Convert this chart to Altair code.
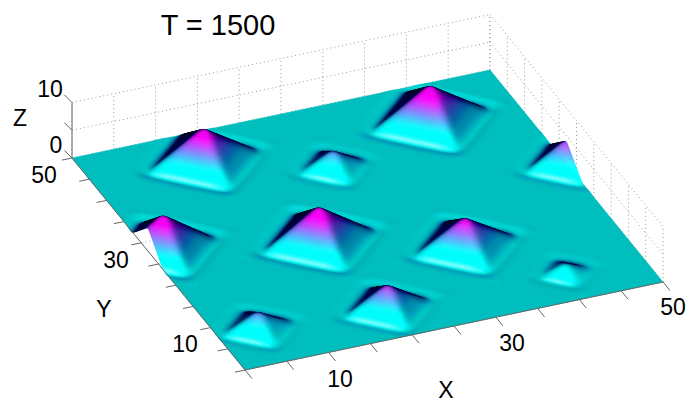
import numpy as np
import altair as alt

# Peaks (world coordinates, height, half-diagonal)
peak_x = [13.2, 39.7, 25.9, 50.0, 1.8, 18.3, 32.8, 40.8, 4.8, 19.7]
peak_y = [43.8, 42.4, 37.1, 27.9, 28.0, 22.8, 15.6, 6.0, 7.8, 6.4]
peak_h = [6.0, 6.4, 3.0, 4.3, 6.1, 6.3, 5.2, 1.6, 3.0, 4.3]
peak_r = [6.5, 6.9, 3.9, 4.8, 6.2, 6.6, 6.0, 2.9, 4.1, 5.0]

x_ticks = list(range(0, 51, 5))
y_ticks = list(range(0, 51, 5))
z_ticks = [0, 5, 10]

labels = ["T = 1500", "10", "0", "Z", "50", "30", "Y", "10", "10", "30", "50", "X"]
label_sx = [218, 50, 56, 20, 44, 116, 104, 185, 340, 512, 673, 446]
label_sy = [26, 90, 146, 119, 176, 261, 310, 345, 380, 344, 308, 391]
label_fs = [29, 23, 23, 23, 23, 23, 23, 23, 23, 23, 23, 23]

FONT = "Liberation Sans"
O = np.array([245.0, 370.0])
EX = np.array([8.36, -1.76])
EY = np.array([-3.46, -4.24])
EZ = 5.55


def proj(x, y, z=0.0):
    return [float(O[0] + EX[0] * x + EY[0] * y),
            float(O[1] + EX[1] * x + EY[1] * y - EZ * z)]


def gauss(a, sigma, du):
    n = int(3 * sigma / du) + 1
    t = np.arange(-n, n + 1) * du
    k = np.exp(-0.5 * (t / sigma) ** 2)
    k /= k.sum()
    a = np.apply_along_axis(lambda v: np.convolve(np.pad(v, n, mode="edge"), k, mode="valid"), 0, a)
    a = np.apply_along_axis(lambda v: np.convolve(np.pad(v, n, mode="edge"), k, mode="valid"), 1, a)
    return a


du = 0.25
gx = -4 + du * np.arange(233)
X, Y = np.meshgrid(gx, gx, indexing="ij")
Zp = np.zeros_like(X)
Zm = np.zeros_like(X)
rim = np.zeros_like(X)
mask = np.zeros_like(X, dtype=bool)
for px, py, h, r in zip(peak_x, peak_y, peak_h, peak_r):
    ax, ay = np.abs(X - px), np.abs(Y - py)
    d = ax + ay
    dr = (ax ** 1.2 + ay ** 1.2) ** (1 / 1.2)
    Zp += h * np.clip(1 - d / r, 0, None)
    m = 0.10 + 0.04 * h
    Zm += -m * np.exp(-(((d * 0.6 + dr * 0.4 - r - 0.5) / 0.55) ** 2))
    Zm += 0.2 * m * np.exp(-(((d * 0.6 + dr * 0.4 - r - 1.8) / 0.7) ** 2))
    front = np.clip((px - X) / 1.5, 0, 1) * np.clip((py - Y) / 1.5, 0, 1)
    rim += 0.85 * front * np.exp(-(((d - r - 0.15) / 0.22) ** 2))
    mask |= d < r + 3.2
rim = gauss(rim, 0.1, du)
Z = gauss(Zp, 0.3, du) + gauss(Zm, 0.3, du)
Gx, Gy = np.gradient(Z, du)
Gx = gauss(Gx, 0.55, du)
Gy = gauss(Gy, 0.55, du)
K = 1.05
Nn = np.sqrt((K * Gx) ** 2 + (K * Gy) ** 2 + 1)
nx, ny, nz = -K * Gx / Nn, -K * Gy / Nn, 1 / Nn
light = -0.2 + (-0.46 * nx - 0.82 * ny + 0.95 * nz)
light = np.clip(light, 0.02, 1.6)
c = np.clip((Z - 1.3) / (4.8 - 1.3), 0, 1)
dark = np.clip(0.75 - light, 0, None) * 0.35
R = np.clip(c * light - dark * 1.4 + rim, 0, 1)
G = np.clip((1 - c) * light - dark + rim, 0, 1)
B = np.clip(light + rim + 0.08 * (light < 0.7), 0, 1)

floor_color = "#00bebe"
floor_rgb = (0, 190, 190)
cells = []
i0, i1 = 16, 216
for i in range(i0, i1):
    for j in range(i0, i1):
        if not mask[i, j]:
            continue
        rgb = [int(255 * a[i:i + 2, j:j + 2].mean()) for a in (R, G, B)]
        if max(abs(a - b) for a, b in zip(rgb, floor_rgb)) < 3 and abs(Z[i, j]) < 0.02:
            continue
        col = "#%02x%02x%02x" % tuple(rgb)
        pts = [proj(X[i, j], Y[i, j], Z[i, j]), proj(X[i + 1, j], Y[i + 1, j], Z[i + 1, j]),
               proj(X[i + 1, j + 1], Y[i + 1, j + 1], Z[i + 1, j + 1]), proj(X[i, j + 1], Y[i, j + 1], Z[i, j + 1])]
        pts = [[round(p[0], 1), round(p[1], 1)] for p in pts]
        depth = 3.46 * X[i, j] + 8.36 * Y[i, j]
        cells.append((depth, col, pts))
cells.sort(key=lambda t: -t[0])


def poly(pts, color):
    return {"type": "Feature", "properties": {"c": color},
            "geometry": {"type": "Polygon", "coordinates": [pts + [pts[0]]]}}


def line(a, b):
    return {"type": "Feature", "properties": {},
            "geometry": {"type": "LineString", "coordinates": [a, b]}}


# The x = 0 edge of the sheet follows the surface, so the sheet lifts off the floor there.
left_edge = [proj(0, Y[i0, j], max(Z[i0, j], 0)) for j in range(i1, i0 - 1, -1)]
floor = [poly([proj(0, 0), proj(50, 0), proj(50, 50)] + left_edge, floor_color)]
surface = floor + [poly(p, col) for _, col, p in cells]

grid = []
for t in x_ticks:
    grid.append(line(proj(t, 50, 0), proj(t, 50, 10)))
    grid.append(line(proj(t, 0, 0), proj(t, 50, 0)))
for t in y_ticks:
    grid.append(line(proj(50, t, 0), proj(50, t, 10)))
    grid.append(line(proj(0, t, 0), proj(50, t, 0)))
for t in z_ticks[1:]:
    grid.append(line(proj(0, 50, t), proj(50, 50, t)))
    grid.append(line(proj(50, 50, t), proj(50, 0, t)))

axes = [line(proj(0, 0), proj(50, 0)), line(proj(0, 0), proj(0, 50)), line(proj(0, 50, 0), proj(0, 50, 10))]
for t in x_ticks:
    axes.append(line(proj(t, 0), proj(t, -2)))
for t in y_ticks:
    axes.append(line(proj(0, t), proj(-1.2, t)))
for t in z_ticks:
    axes.append(line(proj(0, 50, t), proj(-0.14, 51.85, t)))

identity = dict(type="identity", scale=1, translate=[-8, -8])

grid_layer = alt.Chart(alt.Data(values=grid)).mark_geoshape(
    filled=False, stroke="#9a9a9a", strokeWidth=1, strokeDash=[1, 3]).project(**identity)
surf_layer = alt.Chart(alt.Data(values=surface)).mark_geoshape(strokeWidth=0.5).encode(
    fill=alt.Fill("properties.c:N", scale=None, legend=None),
    stroke=alt.Stroke("properties.c:N", scale=None, legend=None),
).project(**identity)
axes_layer = alt.Chart(alt.Data(values=axes)).mark_geoshape(
    filled=False, stroke="#666666", strokeWidth=1).project(**identity)
text_layer = alt.Chart(alt.Data(values=[
    {"t": t, "sx": a, "sy": b, "fs": f} for t, a, b, f in zip(labels, label_sx, label_sy, label_fs)
])).mark_text(font=FONT, color="black", align="center", baseline="middle").encode(
    longitude="sx:Q", latitude="sy:Q", text="t:N",
    size=alt.Size("fs:Q", scale=None, legend=None),
).project(**identity)

chart = alt.layer(grid_layer, surf_layer, axes_layer, text_layer).properties(
    width=679, height=396, padding=0,
    autosize=alt.AutoSizeParams(type="none"),
).configure_view(stroke=None)

chart.save("out.html", embed_options={"renderer": "svg", "actions": False})
